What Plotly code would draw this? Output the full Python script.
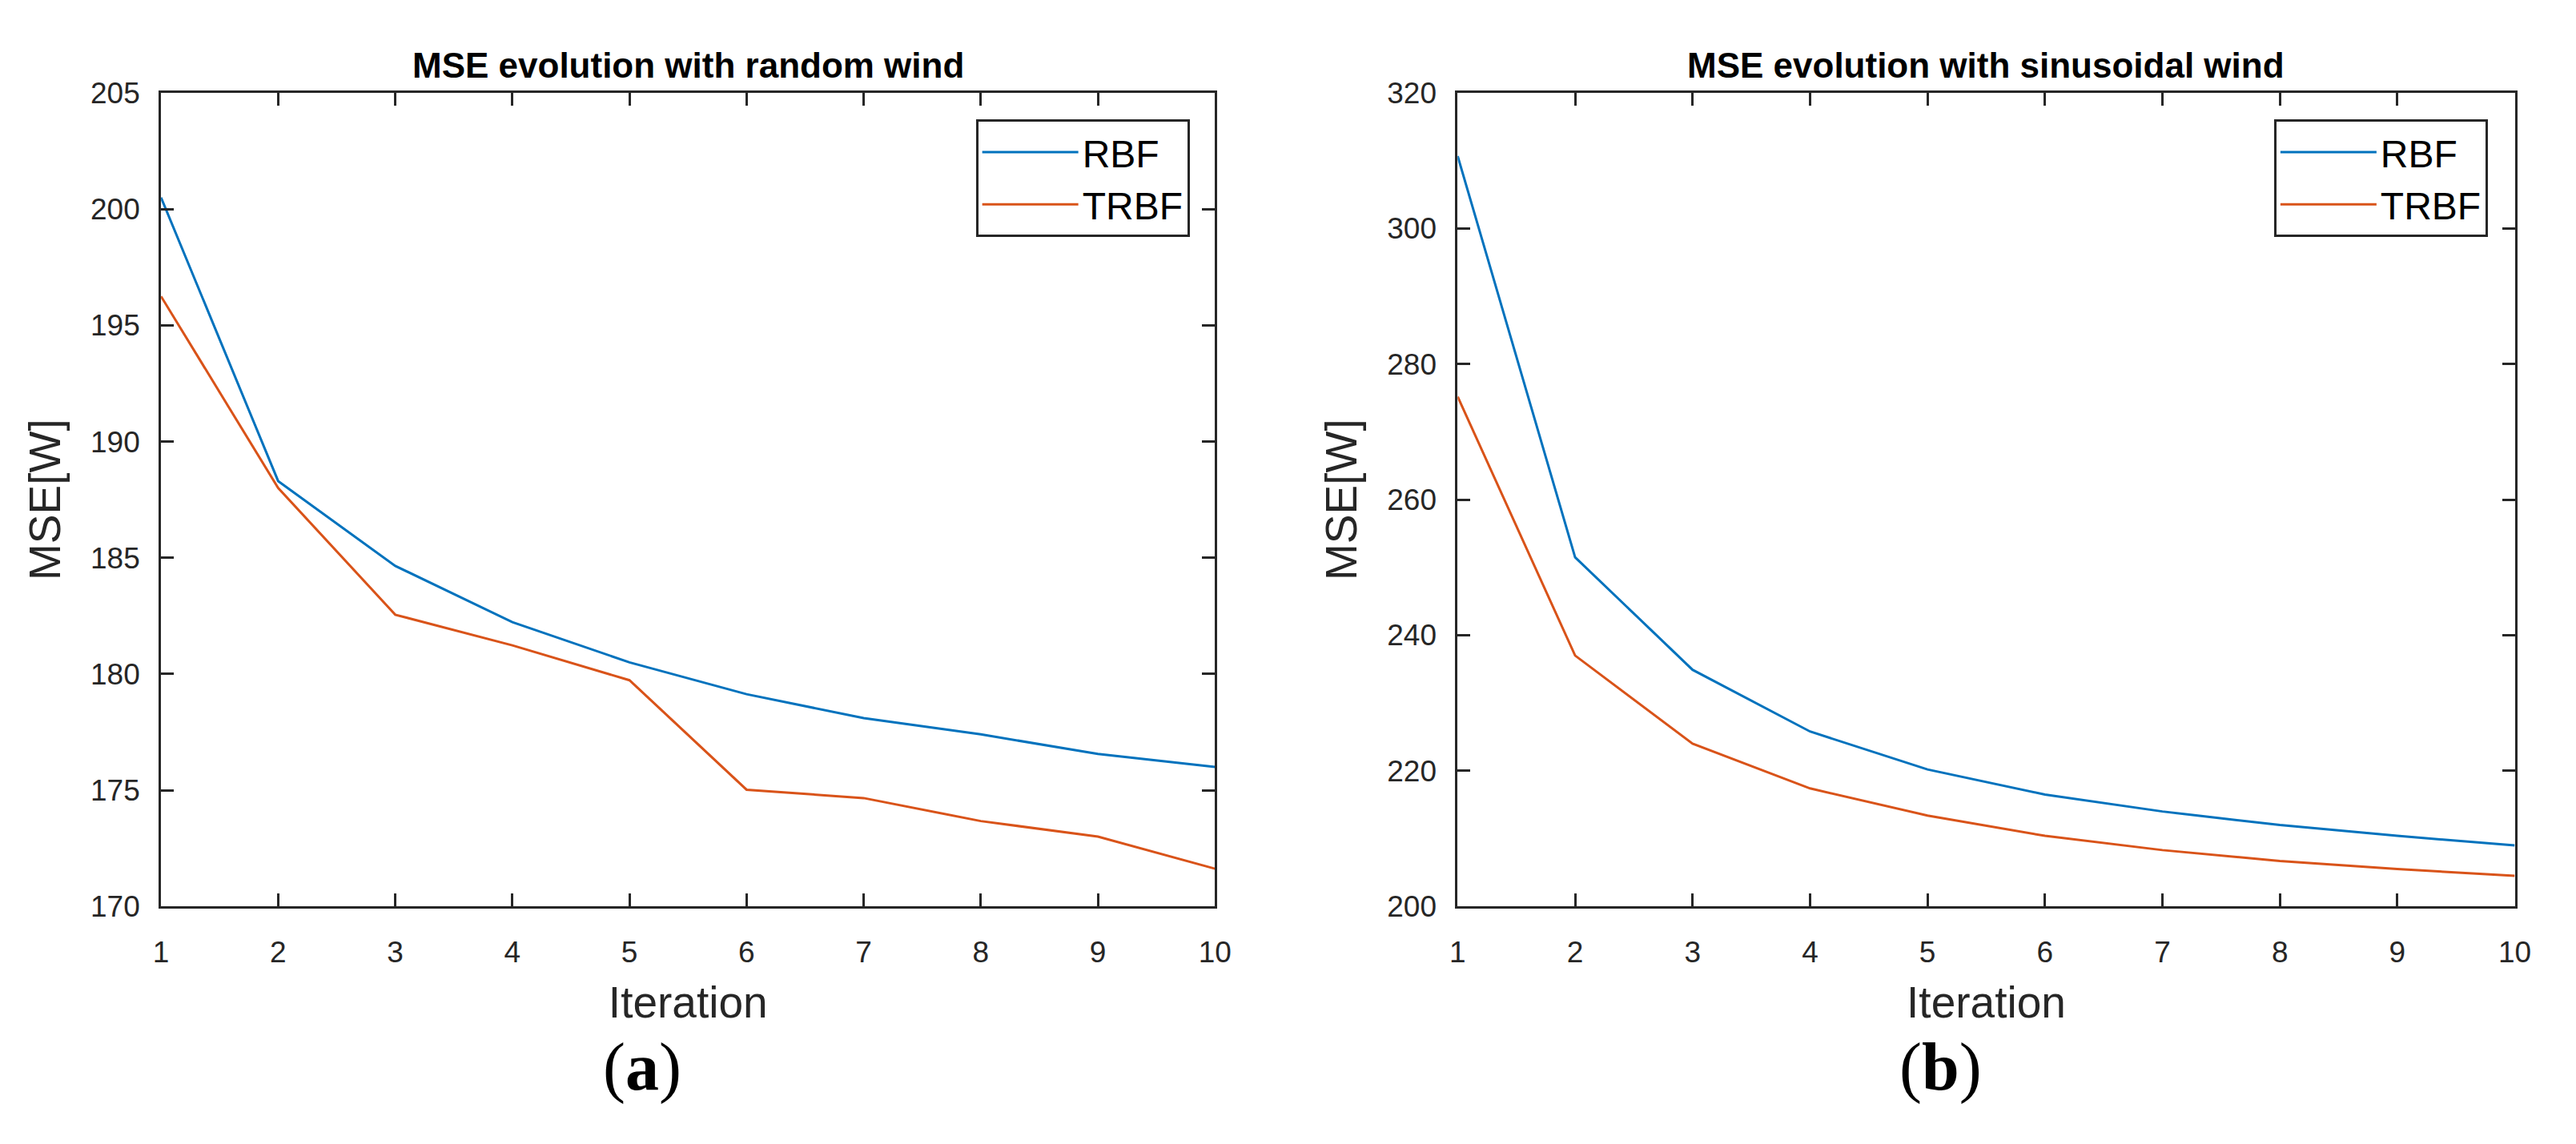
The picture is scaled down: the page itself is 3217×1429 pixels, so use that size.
import plotly.graph_objects as go

iterations = [1, 2, 3, 4, 5, 6, 7, 8, 9, 10]

random_rbf = [200.5, 188.3, 184.65, 182.23, 180.5, 179.13, 178.1, 177.4, 176.56, 176.0]
random_trbf = [196.25, 188.0, 182.55, 181.23, 179.73, 175.02, 174.66, 173.67, 173.0, 171.62]

sin_rbf = [310.7, 251.5, 234.9, 225.8, 220.2, 216.5, 214.0, 212.0, 210.4, 209.0]
sin_trbf = [275.2, 237.0, 224.0, 217.4, 213.4, 210.4, 208.3, 206.7, 205.5, 204.5]

series_names = ["RBF", "TRBF"]
titles = ["MSE evolution with random wind", "MSE evolution with sinusoidal wind"]
panel_labels = ["(<b>a</b>)", "(<b>b</b>)"]

BLUE = "#0072BD"
RED = "#D95319"
AX = "#262626"
W, H = 3217, 1429

fig = go.Figure()

fig.add_trace(go.Scatter(x=iterations, y=random_rbf, mode="lines", name=series_names[0],
                         line=dict(color=BLUE, width=3), xaxis="x", yaxis="y", legend="legend"))
fig.add_trace(go.Scatter(x=iterations, y=random_trbf, mode="lines", name=series_names[1],
                         line=dict(color=RED, width=3), xaxis="x", yaxis="y", legend="legend"))
fig.add_trace(go.Scatter(x=iterations, y=sin_rbf, mode="lines", name=series_names[0],
                         line=dict(color=BLUE, width=3), xaxis="x2", yaxis="y2", legend="legend2"))
fig.add_trace(go.Scatter(x=iterations, y=sin_trbf, mode="lines", name=series_names[1],
                         line=dict(color=RED, width=3), xaxis="x2", yaxis="y2", legend="legend2"))

ydom = [1 - 1145 / H, 1 - 99 / H]
xdom1 = [193 / W, 1522 / W]
xdom2 = [1828 / W, 3161 / W]

common_x = dict(range=[1, 10], dtick=1, tick0=1, ticks="inside", ticklen=16, tickwidth=2.5,
                tickcolor=AX, showline=True, linecolor=AX, linewidth=3, mirror="ticks",
                showgrid=False, zeroline=False, ticklabelstandoff=22,
                tickfont=dict(family="Liberation Sans", size=37, color=AX),
                title=dict(text="Iteration", font=dict(family="Liberation Sans", size=55, color=AX),
                           standoff=24))
common_y = dict(ticks="inside", ticklen=16, tickwidth=2.5, tickcolor=AX, showline=True,
                linecolor=AX, linewidth=3, mirror="ticks", showgrid=False, zeroline=False,
                ticklabelstandoff=16,
                tickfont=dict(family="Liberation Sans", size=37, color=AX),
                title=dict(text="MSE[W]", font=dict(family="Liberation Sans", size=55, color=AX),
                           standoff=20))

fig.update_layout(
    width=W, height=H,
    margin=dict(l=0, r=0, t=0, b=0),
    paper_bgcolor="white", plot_bgcolor="white",
    xaxis=dict(domain=xdom1, anchor="y", **common_x),
    yaxis=dict(domain=ydom, anchor="x", range=[170, 205], dtick=5, **common_y),
    xaxis2=dict(domain=xdom2, anchor="y2", **common_x),
    yaxis2=dict(domain=ydom, anchor="x2", range=[200, 320], dtick=20, **common_y),
    legend=dict(x=1490 / W, y=1 - 133 / H, xanchor="right", yanchor="top",
                bgcolor="white", bordercolor=AX, borderwidth=3,
                font=dict(family="Liberation Sans", size=48, color="black"), itemwidth=120),
    legend2=dict(x=3127 / W, y=1 - 133 / H, xanchor="right", yanchor="top",
                 bgcolor="white", bordercolor=AX, borderwidth=3,
                 font=dict(family="Liberation Sans", size=48, color="black"), itemwidth=120),
    showlegend=True,
)

title_x = [(xdom1[0] + xdom1[1]) / 2, (xdom2[0] + xdom2[1]) / 2]
for i in range(2):
    fig.add_annotation(text="<b>" + titles[i] + "</b>", x=title_x[i], y=1 - 63 / H,
                       xref="paper", yref="paper", showarrow=False, xanchor="center",
                       yanchor="middle", font=dict(family="Liberation Sans", size=44, color="black"))

label_x = [800 / W, 2437 / W]
for i in range(2):
    fig.add_annotation(text=panel_labels[i], x=label_x[i], y=1 - 1352 / H,
                       xref="paper", yref="paper", showarrow=False, xanchor="center",
                       yanchor="middle", font=dict(family="Liberation Serif", size=84, color="black"))

fig.write_html("out.html", config={"displayModeBar": False},
               post_script="document.body.style.margin='0';document.body.style.overflow='hidden';")
